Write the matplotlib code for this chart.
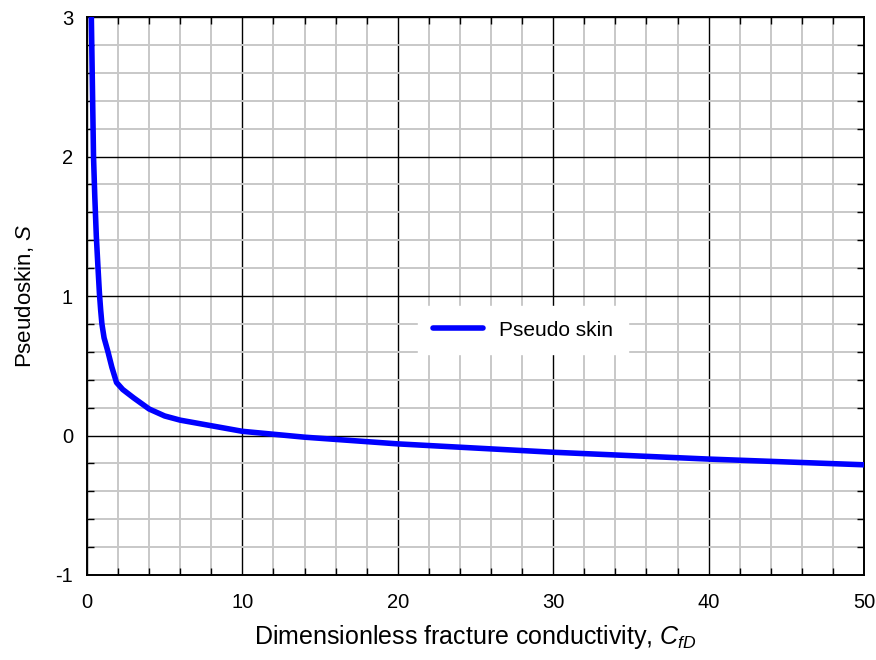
import matplotlib
matplotlib.use("Agg")
import matplotlib.pyplot as plt
from matplotlib.ticker import MultipleLocator

plt.rcParams['font.family'] = ['Liberation Sans', 'DejaVu Sans']
plt.rcParams['mathtext.fontset'] = 'custom'
plt.rcParams['mathtext.rm'] = 'Liberation Sans'
plt.rcParams['mathtext.it'] = 'Liberation Sans:italic'
plt.rcParams['axes.unicode_minus'] = False

# pseudoskin vs dimensionless fracture conductivity
cfd = [0.28, 0.35, 0.42, 0.5, 0.6, 0.7, 0.8, 0.88, 0.96, 1.1, 1.35, 1.6, 1.9, 2.3, 3, 4, 5, 6, 8, 10,
       14, 20, 30, 40, 50]
skin = [3.0, 2.5, 2.0, 1.72, 1.43, 1.22, 1.02, 0.9, 0.8, 0.7, 0.6, 0.49, 0.38, 0.33, 0.27, 0.19, 0.14,
        0.11, 0.07, 0.03, -0.012, -0.06, -0.12, -0.169, -0.21]

fig = plt.figure(figsize=(8.76, 6.6), dpi=100)
ax = fig.add_axes([0.0993, 0.1288, 0.887, 0.8454])

ax.plot(cfd, skin, color='#0000ff', lw=4.0, label='Pseudo skin', solid_capstyle='round',
        solid_joinstyle='round', zorder=3)

ax.set_xlim(0, 50)
ax.set_ylim(-1, 3)
ax.xaxis.set_major_locator(MultipleLocator(10))
ax.xaxis.set_minor_locator(MultipleLocator(2))
ax.yaxis.set_major_locator(MultipleLocator(1))
ax.yaxis.set_minor_locator(MultipleLocator(0.2))

ax.grid(which='minor', color='#c8c8c8', lw=1.4, zorder=0)
ax.grid(which='major', color='black', lw=1.0, zorder=1)
ax.set_axisbelow(True)

ax.tick_params(which='both', direction='in', top=True, right=True, labelsize=14.5, width=1.0)
ax.tick_params(which='major', length=0)
ax.tick_params(axis='x', which='major', pad=13)
ax.tick_params(axis='y', which='major', pad=10)
ax.tick_params(which='minor', length=5)
for s in ax.spines.values():
    s.set_linewidth(1.4)

ax.set_xlabel(r'Dimensionless fracture conductivity, $C_{fD}$', fontsize=18, labelpad=8)
ax.set_ylabel(r'Pseudoskin, $S$', fontsize=16, labelpad=14)

leg = ax.legend(loc='center', bbox_to_anchor=(0.561, 0.439), frameon=True, fontsize=15,
                handlelength=2.4, borderpad=0.7, fancybox=False)
leg.get_frame().set_edgecolor('white')
leg.get_frame().set_facecolor('white')
leg.get_frame().set_alpha(1.0)

fig.savefig('out.png', dpi=100)
